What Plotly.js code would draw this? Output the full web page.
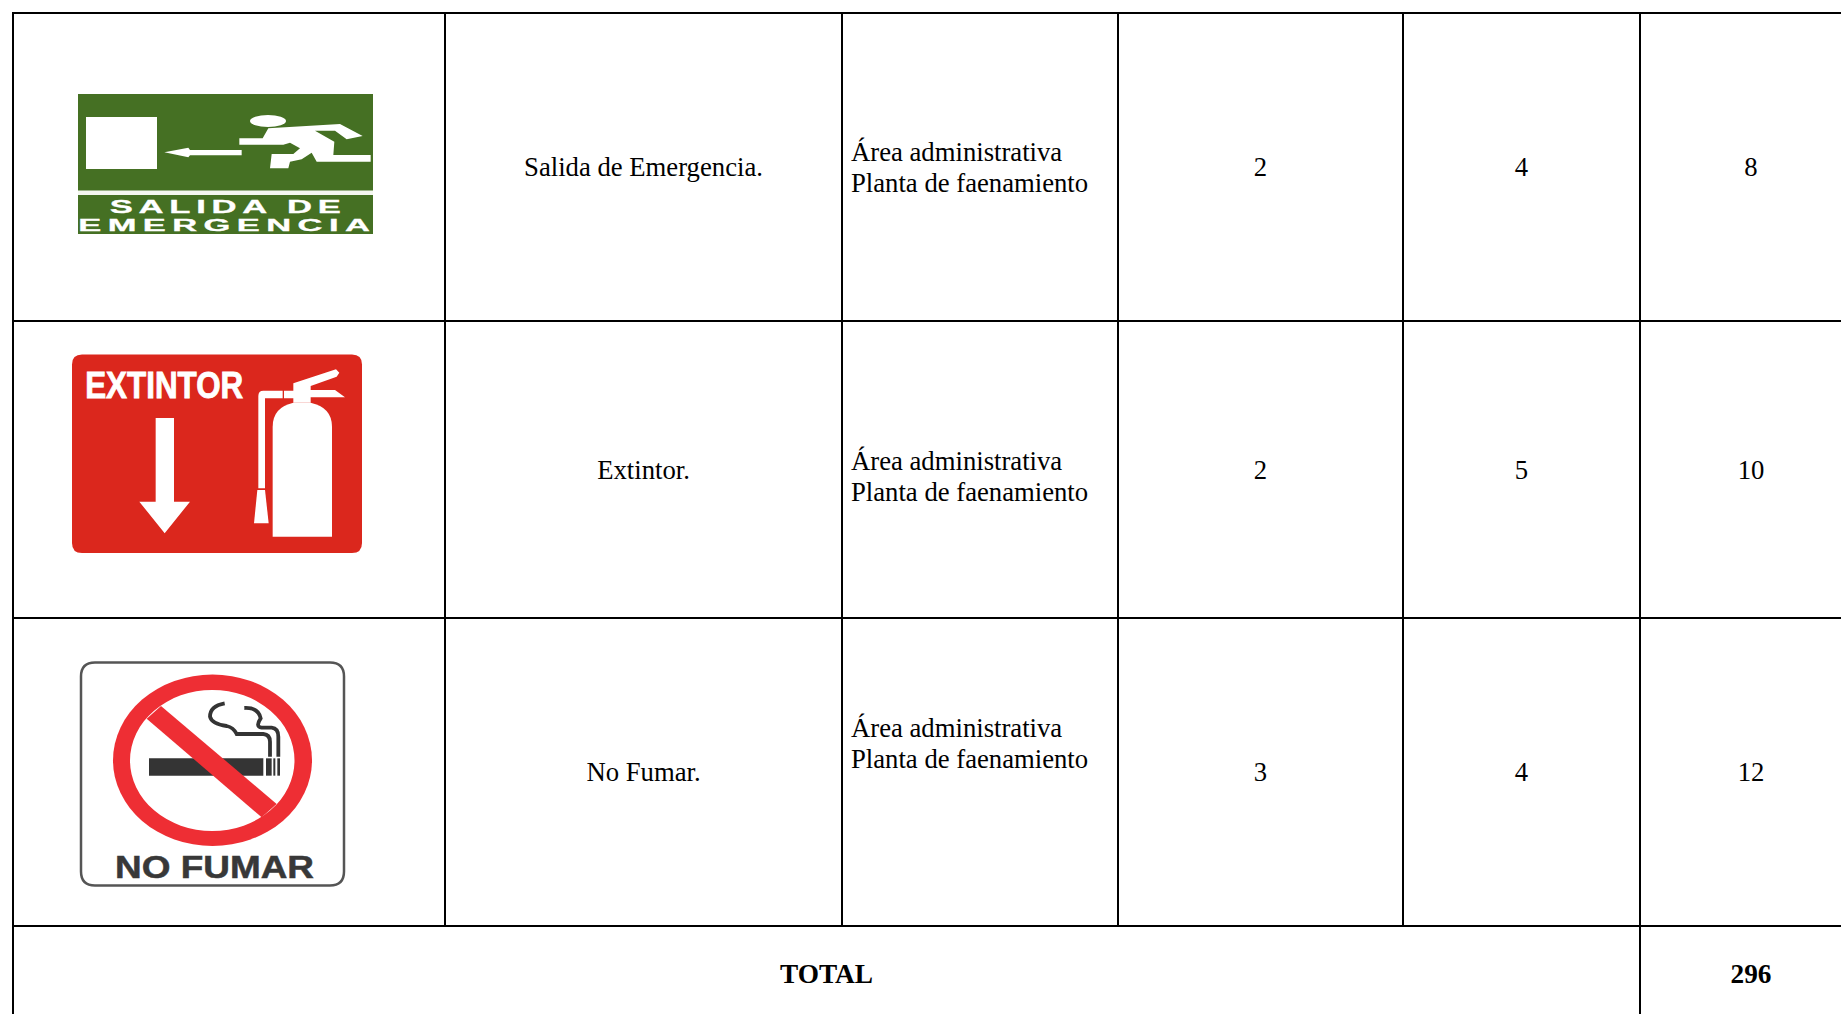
<!DOCTYPE html>
<html><head><meta charset="utf-8">
<script src="https://cdn.plot.ly/plotly-3.0.1.min.js"></script>
<style>html,body{margin:0;padding:0;background:#fff;overflow:hidden}</style>
</head><body><div id="chart" style="width:1841px;height:1014px"></div>
<script>
// ---- table content ----
const signals = ["Salida de Emergencia.", "Extintor.", "No Fumar."];
const areaLine1 = ["Área administrativa", "Área administrativa", "Área administrativa"];
const areaLine2 = ["Planta de faenamiento", "Planta de faenamiento", "Planta de faenamiento"];
const colA = [2, 2, 3];
const colB = [4, 5, 4];
const colC = [8, 10, 12];
const totalLabel = "TOTAL";
const totalValue = 296;
const signTexts = ["SALIDA DE", "EMERGENCIA", "EXTINTOR", "NO FUMAR"];

// ---- layout geometry (page pixels) ----
const W = 1841, H = 1014;
const colEdges = [13, 445, 842, 1118, 1403, 1640, 1862];
const rowEdges = [13, 321, 618, 926, 1020];
const areaX = 851;
const areaCentreY = [167.5, 476, 743];
const lineGap = 15.5;
const textDy = 2.5;
const LW = 2;
const mid = (a, i) => (a[i] + a[i + 1]) / 2;
const rows = [0, 1, 2];
const rowY = rows.map(i => mid(rowEdges, i) + textDy);
const textFont = {family: '"Liberation Serif","Times New Roman",serif', size: 26.7, color: '#000'};

// ---- helpers: paths written in zoomed (3x) crop coordinates ----
function zp(d, ox, oy) {
  let isX = true;
  return d.replace(/-?\d+(\.\d+)?/g, n => {
    const v = isX ? ox + (+n) / 3 : oy + (+n) / 3;
    isX = !isX;
    return v.toFixed(2);
  }).replace(/\s*([MLQCZ])\s*/g, '$1').replace(/(\d) (-?\d)/g, '$1,$2');
}
const P = (path, fill) => ({type: 'path', xref: 'x', yref: 'y', path, fillcolor: fill, line: {width: 0}});
const stroke = (path, color, width) => ({type: 'path', xref: 'x', yref: 'y', path, fillcolor: 'rgba(0,0,0,0)', line: {color, width}});
const rrect = (x0, y0, x1, y1, r) =>
  `M${x0 + r},${y0}L${x1 - r},${y0}Q${x1},${y0},${x1},${y0 + r}L${x1},${y1 - r}Q${x1},${y1},${x1 - r},${y1}L${x0 + r},${y1}Q${x0},${y1},${x0},${y1 - r}L${x0},${y0 + r}Q${x0},${y0},${x0 + r},${y0}Z`;
const rect = (x0, y0, x1, y1, fill) => ({type: 'rect', xref: 'x', yref: 'y', x0, x1, y0, y1, fillcolor: fill, line: {width: 0}});
const oval = (x0, y0, x1, y1, fill) => ({type: 'circle', xref: 'x', yref: 'y', x0, x1, y0, y1, fillcolor: fill, line: {width: 0}});

const shapes = [];
// --- green sign
const GREEN = '#457023';
shapes.push(rect(78, 94, 373, 234, GREEN));
shapes.push(rect(78, 190.5, 373, 195, '#f4f7f0'));
shapes.push(rect(86, 117, 157, 169, '#fff'));
shapes.push(P(zp('M 493 457 L 565 443 L 570 450 L 725 450 L 725 466 L 570 466 L 565 472 Z', 0, 0), '#fff'));
shapes.push(oval(250, 115, 286, 127, '#fff'));
shapes.push(P(zp('M 718 415 L 788 415 L 805 385 L 1020 372 L 1088 408 L 1040 418 L 1005 392 L 945 392 L 1003 425 L 1000 465 L 1112 465 L 1112 485 L 950 485 L 935 458 L 905 478 L 870 485 L 865 505 L 810 505 L 815 462 L 880 462 L 900 445 L 870 428 L 850 434 L 718 434 Z', 0, 0), '#fff'));
// --- red sign
const RED = '#db271d';
shapes.push(P(rrect(72, 354.5, 362, 553, 10), RED));
const oy2 = 320;
shapes.push(P(zp('M 467 294 L 522 294 L 522 545 L 570 545 L 494 640 L 418 545 L 467 545 Z', 0, oy2), '#fff'));
shapes.push(P(zp('M 818 650 L 818 320 Q 818 262 880 248 L 932 248 Q 996 262 996 320 L 996 650 Z', 0, oy2), '#fff'));
shapes.push(P(zp('M 880 190 L 1008 148 L 1018 158 L 1010 170 L 932 198 L 932 210 L 1005 210 L 1035 232 L 932 232 L 932 248 L 880 248 L 880 235 L 852 235 L 852 212 L 880 212 Z', 0, oy2), '#fff'));
shapes.push(P(zp('M 848 212 L 790 212 Q 775 212 775 228 L 775 505 L 795 505 L 795 235 L 848 235 Z', 0, oy2), '#fff'));
shapes.push(P(zp('M 772 510 L 795 510 L 806 610 L 762 610 Z', 0, oy2), '#fff'));
// --- no smoking sign
const DARK = '#343434', RING = '#ee2e34';
const oy3 = 620;
shapes.push({type: 'path', xref: 'x', yref: 'y', path: rrect(81, 662.5, 344, 885.5, 14), fillcolor: '#fff', line: {color: '#555', width: 2.5}});
shapes.push(oval(113, 674.5, 312, 846, RING));
shapes.push(oval(130, 690, 294.5, 831, '#fff'));
shapes.push(P(zp('M 447 415 L 790 415 L 790 467 L 447 467 Z', 0, oy3), DARK));
shapes.push(P(zp('M 798 415 L 815 415 L 815 467 L 798 467 Z', 0, oy3), DARK));
shapes.push(P(zp('M 820 415 L 826 415 L 826 467 L 820 467 Z', 0, oy3), DARK));
shapes.push(P(zp('M 832 415 L 840 415 L 840 467 L 832 467 Z', 0, oy3), DARK));
shapes.push(stroke(zp('M 674 250 Q 630 258 630 290 Q 635 312 680 318 Q 700 322 710 342 L 790 342 Q 810 344 810 365 L 810 410', 0, oy3), DARK, 3.8));
shapes.push(stroke(zp('M 733 264 Q 775 262 782 295 Q 765 320 785 323 L 815 323 Q 835 325 835 350 L 835 410', 0, oy3), DARK, 3.8));
shapes.push(P(zp('M 483 258 L 830 552 L 785 592 L 440 296 Z', 0, oy3), RING));

// --- table grid
const grid = (x0, y0, x1, y1) => ({type: 'line', xref: 'x', yref: 'y', x0, y0, x1, y1, line: {color: '#000', width: LW}});
rowEdges.slice(0, 4).forEach(y => shapes.push(grid(12, y, W, y)));
[0, 5].forEach(i => shapes.push(grid(colEdges[i], rowEdges[0], colEdges[i], H)));
[1, 2, 3, 4].forEach(i => shapes.push(grid(colEdges[i], rowEdges[0], colEdges[i], rowEdges[3])));

// --- traces
const centred = {
  type: 'scatter', mode: 'text', textposition: 'middle center', cliponaxis: false,
  hoverinfo: 'skip', showlegend: false, textfont: textFont,
  x: [...rows.map(() => mid(colEdges, 1)), ...rows.map(() => mid(colEdges, 3)), ...rows.map(() => mid(colEdges, 4)), ...rows.map(() => mid(colEdges, 5))],
  y: [...rowY, ...rowY, ...rowY, ...rowY],
  text: [...signals, ...colA.map(String), ...colB.map(String), ...colC.map(String)]
};
const area = {
  type: 'scatter', mode: 'text', textposition: 'middle right', cliponaxis: false,
  hoverinfo: 'skip', showlegend: false, textfont: textFont,
  x: [...rows.map(() => areaX), ...rows.map(() => areaX)],
  y: [...areaCentreY.map(y => y + textDy - lineGap), ...areaCentreY.map(y => y + textDy + lineGap)],
  text: [...areaLine1, ...areaLine2]
};
const totals = {
  type: 'scatter', mode: 'text', textposition: 'middle center', cliponaxis: false,
  hoverinfo: 'skip', showlegend: false,
  textfont: {family: textFont.family, size: 27.3, color: '#000', weight: 700},
  x: [(colEdges[0] + colEdges[5]) / 2, mid(colEdges, 5)],
  y: [976, 976],
  text: [totalLabel, String(totalValue)]
};

// --- text inside the signs; widths are applied after plotting
const signFont = '"Liberation Sans",Arial,sans-serif';
const signX = [227.5, 227, 164, 214.5];
const signY = [207, 225, 385.5, 867];
const signSize = [18, 16, 37, 31];
const signColor = ['#fff', '#fff', '#fff', '#383838'];
const signWidth = [237, 298, 158, 199];
const signSpacing = [3, 3, 0, 0];
const signHeavy = [0.3, 0.3, 0.9, 0.5];
const annotations = signTexts.map((t, i) => ({
  xref: 'x', yref: 'y', x: signX[i], y: signY[i], text: t, showarrow: false,
  xanchor: 'center', yanchor: 'middle',
  font: {family: signFont, size: signSize[i], color: signColor[i], weight: 700}
}));

Plotly.newPlot('chart', [centred, area, totals], {
  width: W, height: H, margin: {l: 0, r: 0, t: 0, b: 0, pad: 0},
  paper_bgcolor: '#fff', plot_bgcolor: '#fff', showlegend: false,
  xaxis: {range: [0, W], visible: false, fixedrange: true},
  yaxis: {range: [H, 0], visible: false, fixedrange: true},
  shapes, annotations
}, {displayModeBar: false, staticPlot: true}).then(gd => {
  gd.querySelectorAll('.annotation-text').forEach((el, i) => {
    el.style.letterSpacing = signSpacing[i] + 'px';
    el.style.stroke = signColor[i];
    el.style.strokeWidth = signHeavy[i] + 'px';
    el.setAttribute('textLength', signWidth[i]);
    el.setAttribute('lengthAdjust', 'spacingAndGlyphs');
  });
});
</script></body></html>
